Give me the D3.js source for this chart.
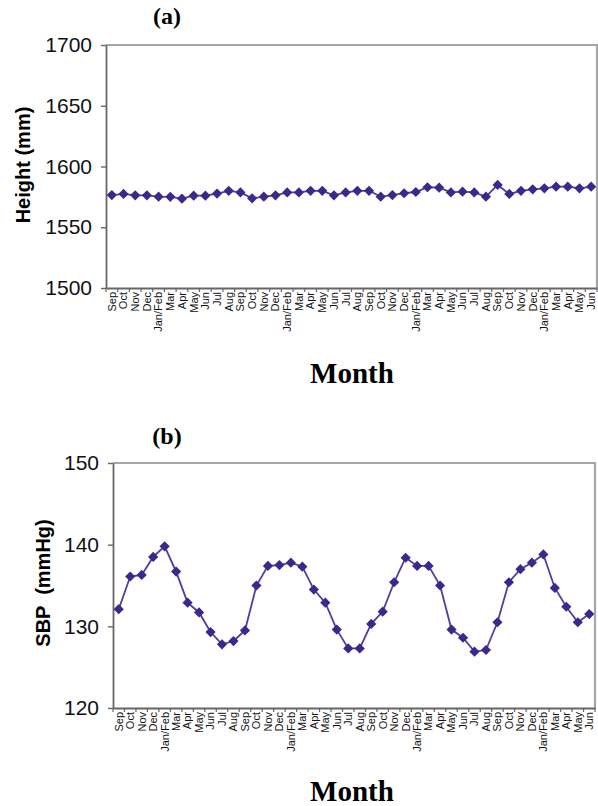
<!DOCTYPE html>
<html>
<head>
<meta charset="utf-8">
<script src="https://d3js.org/d3.v7.min.js"></script>
<style>
body { margin: 0; background: #fff; }
svg { display: block; }
.tick text { font-family: "Liberation Sans", Arial, sans-serif; fill: #111; }
</style>
</head>
<body>
<div id="chart"></div>
<script>
// months along the x axis (same for both panels)
var months = ["Sep","Oct","Nov","Dec","Jan/Feb","Mar","Apr","May","Jun","Jul","Aug",
              "Sep","Oct","Nov","Dec","Jan/Feb","Mar","Apr","May","Jun","Jul","Aug",
              "Sep","Oct","Nov","Dec","Jan/Feb","Mar","Apr","May","Jun","Jul","Aug",
              "Sep","Oct","Nov","Dec","Jan/Feb","Mar","Apr","May","Jun"];

// panel (a) height, mm
var heightVals = [1576.5,1577.4,1576.3,1576.3,1575.2,1575,1573.5,1576,1576,1577.7,1580,
                  1578.7,1573.8,1575.2,1576.3,1578.7,1578.7,1580,1580,1576.3,1578.7,1580,
                  1580,1575.2,1576.5,1578,1579,1582.9,1582.6,1578.7,1579.3,1578.7,1575.2,
                  1584.8,1577.4,1580,1581.2,1582,1583.4,1583.4,1582,1583.4];
var heightTicks = [1500,1550,1600,1650,1700];

// panel (b) systolic blood pressure, mmHg
var sbpVals = [132.1,136.1,136.3,138.5,139.8,136.7,132.9,131.7,129.3,127.8,128.2,
               129.5,135,137.4,137.5,137.8,137.3,134.5,132.9,129.6,127.3,127.3,
               130.3,131.8,135.4,138.4,137.4,137.4,135,129.6,128.6,126.9,127.1,
               130.5,135.4,137,137.8,138.8,134.7,132.4,130.5,131.5];
var sbpTicks = [120,130,140,150];

var W = 598, H = 806;
var svg = d3.select("#chart").append("svg")
    .attr("width", W)
    .attr("height", H);

var markColor = "#372a8a";
var lineColor = "#4b3fa0";
var sans = "'Liberation Sans', Arial, sans-serif";
var serif = "'Liberation Serif', 'Times New Roman', serif";

function drawPanel(p) {
  var g = svg.append("g");

  var x = d3.scaleBand()
    .domain(d3.range(months.length))
    .range([p.left, p.right]);

  var y = d3.scaleLinear()
    .domain(p.domain)
    .range([p.bottom, p.top]);

  // frame (light grey top/right)
  g.append("path")
    .attr("d", "M" + p.left + "," + p.top + "H" + p.right + "V" + p.bottom)
    .attr("fill", "none")
    .attr("stroke", "#a6a6a6")
    .attr("stroke-width", 2.2);

  // y axis
  var ya = g.append("g")
    .attr("transform", "translate(" + p.left + ",0)")
    .call(d3.axisLeft(y).tickValues(p.ticks).tickFormat(d3.format("d"))
      .tickSize(5).tickPadding(9).tickSizeOuter(0));
  ya.select(".domain").attr("stroke", "#666").attr("stroke-width", 1.8);
  ya.selectAll(".tick line").attr("stroke", "#666").attr("stroke-width", 1.4);
  ya.selectAll(".tick text").style("font-size", "21px");

  // x axis: month labels rotated
  var xa = g.append("g")
    .attr("transform", "translate(0," + p.bottom + ")")
    .call(d3.axisBottom(x).tickFormat(function(i) { return months[i]; }).tickSize(0).tickSizeOuter(0));
  xa.select(".domain").attr("stroke", "#666").attr("stroke-width", 1.8);
  xa.selectAll(".tick text")
    .style("font-size", "11px")
    .attr("text-anchor", "end")
    .attr("dy", "0.35em")
    .attr("transform", "translate(0,4) rotate(-90)")
    .attr("x", 0)
    .attr("y", 0);

  // tick marks between months
  g.append("g").selectAll("line")
    .data(d3.range(months.length + 1))
    .join("line")
      .attr("x1", function(i) { return p.left + i * x.step(); })
      .attr("x2", function(i) { return p.left + i * x.step(); })
      .attr("y1", p.bottom)
      .attr("y2", p.bottom + 4)
      .attr("stroke", "#666")
      .attr("stroke-width", 1.2);

  // series line
  var line = d3.line()
    .x(function(d, i) { return x(i) + x.bandwidth() / 2; })
    .y(function(d) { return y(d); });

  g.append("path")
    .datum(p.values)
    .attr("d", line)
    .attr("fill", "none")
    .attr("stroke", lineColor)
    .attr("stroke-width", 1.8);

  // diamond markers
  var diamond = d3.symbol().type(d3.symbolSquare).size(52);
  g.append("g").selectAll("path")
    .data(p.values)
    .join("path")
      .attr("d", diamond)
      .attr("transform", function(d, i) {
        return "translate(" + (x(i) + x.bandwidth() / 2) + "," + y(d) + ") rotate(45)";
      })
      .attr("fill", markColor);

  // panel letter
  g.append("text")
    .attr("x", p.letterX)
    .attr("y", p.letterY)
    .attr("text-anchor", "middle")
    .style("font-family", serif)
    .style("font-weight", "bold")
    .style("font-size", "24px")
    .text(p.letter);

  // y title
  g.append("text")
    .attr("transform", "translate(" + p.yTitleX + "," + p.yTitleY + ") rotate(-90)")
    .attr("text-anchor", "middle")
    .style("font-family", sans)
    .style("font-weight", "bold")
    .style("font-size", "20px")
    .style("white-space", "pre")
    .text(p.yTitle);

  // x title
  g.append("text")
    .attr("x", 352)
    .attr("y", p.xTitleY)
    .attr("text-anchor", "middle")
    .style("font-family", serif)
    .style("font-weight", "bold")
    .style("font-size", "29px")
    .text("Month");
}

drawPanel({
  values: heightVals, domain: [1500, 1700], ticks: heightTicks,
  left: 106, right: 597, top: 45, bottom: 288,
  letter: "(a)", letterX: 167, letterY: 24,
  yTitle: "Height (mm)", yTitleX: 30, yTitleY: 165,
  xTitleY: 383
});

drawPanel({
  values: sbpVals, domain: [120, 150], ticks: sbpTicks,
  left: 113, right: 595, top: 463, bottom: 708,
  letter: "(b)", letterX: 167, letterY: 444,
  yTitle: "SBP  (mmHg)", yTitleX: 50, yTitleY: 583,
  xTitleY: 801
});
</script>
</body>
</html>
